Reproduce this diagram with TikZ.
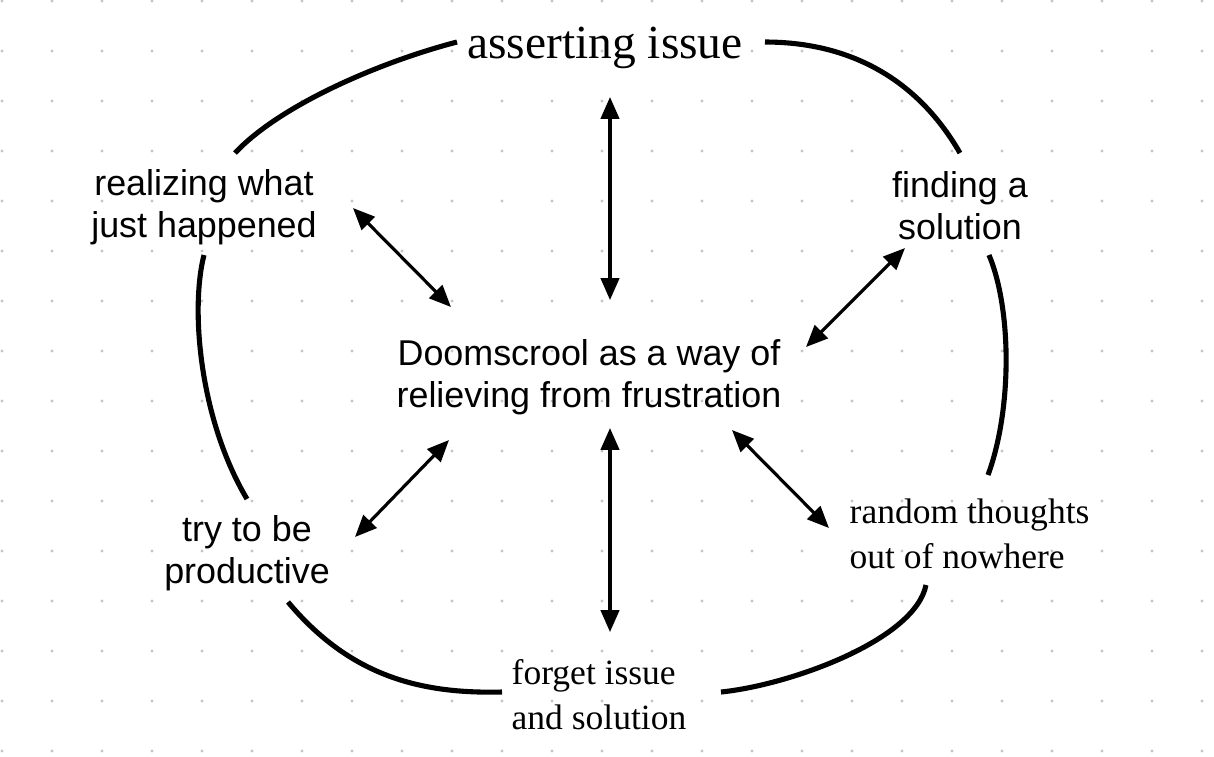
\documentclass[tikz,border=0pt]{standalone}
\usepackage{fontspec}
\newfontfamily\labsans{Liberation Sans}
\newfontfamily\labserif{Liberation Serif}
\usetikzlibrary{arrows.meta}
\definecolor{dotgray}{HTML}{C4C4C4}
\tikzset{
  sanslabel/.style={inner sep=0pt, align=center, font={\labsans\fontsize{10.2pt}{11.95pt}\selectfont}},
  seriflabel/.style={inner sep=0pt, align=left, font={\labserif\fontsize{10.1pt}{12.8pt}\selectfont}},
  titlelabel/.style={inner sep=0pt, font={\labserif\fontsize{13.5pt}{16pt}\selectfont}},
  loopline/.style={line width=1.45pt, line cap=butt},
  twoway/.style={line width=0.9pt, {Triangle[length=6.2pt,width=5.2pt]}-{Triangle[length=6.2pt,width=5.2pt]}},
}
\begin{document}
\begin{tikzpicture}[x=0.01cm, y=-0.01cm]
\path[fill=white, use as bounding box] (0,0) rectangle (1214,756);
% dot grid
\foreach \i in {0,...,24}{
  \foreach \j in {0,...,15}{
    \fill[dotgray] ({2+50*\i},{1+50*\j}) circle (1.6);
  }
}
% labels
\node[titlelabel] (assert) at (605,48) {asserting issue};
\node[sanslabel] (realize) at (204,207) {realizing what\\just happened};
\node[sanslabel] (finding) at (960,206) {finding a\\solution};
\node[sanslabel] (doom) at (589,377) {Doomscrool as a way of\\relieving from frustration};
\node[sanslabel] (try) at (247,553) {try to be\\productive};
\node[seriflabel, anchor=west] (random) at (849,534) {random thoughts\\out of nowhere};
\node[seriflabel, anchor=west] (forget) at (511,695) {forget issue\\and solution};
% arrow end points
\coordinate (tA) at (610,97);   \coordinate (tB) at (610,300);
\coordinate (lA) at (353,208);  \coordinate (lB) at (451,307);
\coordinate (rA) at (905,248);  \coordinate (rB) at (806,347);
\coordinate (blA) at (449,440); \coordinate (blB) at (355,537);
\coordinate (bA) at (610,428);  \coordinate (bB) at (610,632);
\coordinate (brA) at (732,430); \coordinate (brB) at (829,528);
\draw[twoway] (tA) -- (tB);
\draw[twoway] (lA) -- (lB);
\draw[twoway] (rA) -- (rB);
\draw[twoway] (blA) -- (blB);
\draw[twoway] (bA) -- (bB);
\draw[twoway] (brA) -- (brB);
% loop curve ends
\coordinate (c1a) at (235,153); \coordinate (c1b) at (457,42);
\coordinate (c2a) at (765,42);  \coordinate (c2b) at (960,153);
\coordinate (c3a) at (989,255); \coordinate (c3b) at (988,475);
\coordinate (c4a) at (926,585); \coordinate (c4b) at (721,692);
\coordinate (c5a) at (502,692); \coordinate (c5b) at (288,602);
\coordinate (c6a) at (247,499); \coordinate (c6b) at (204,255);
\draw[loopline] (c1a) .. controls (280,105) and (380,62) .. (c1b);
\draw[loopline] (c2a) .. controls (845,42) and (915,75) .. (c2b);
\draw[loopline] (c3a) .. controls (1012,310) and (1012,410) .. (c3b);
\draw[loopline] (c4a) .. controls (915,640) and (790,685) .. (c4b);
\draw[loopline] (c5a) .. controls (420,694) and (350,676) .. (c5b);
\draw[loopline] (c6a) .. controls (200,420) and (190,310) .. (c6b);
\end{tikzpicture}
\end{document}
